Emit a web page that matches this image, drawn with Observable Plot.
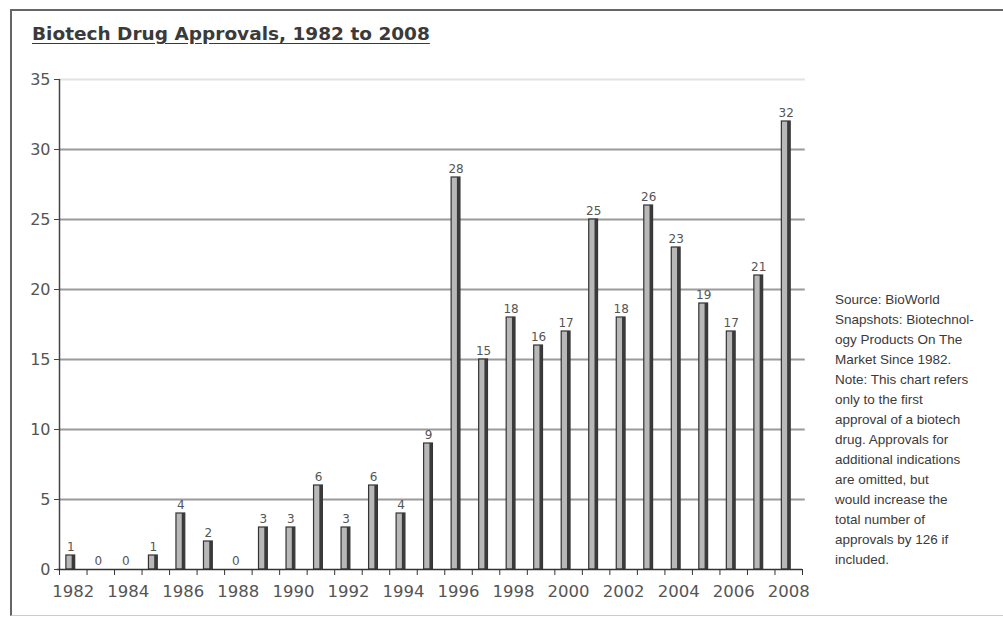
<!DOCTYPE html>
<html>
<head>
<meta charset="utf-8">
<script src="https://cdn.jsdelivr.net/npm/d3@7"></script>
<script src="https://cdn.jsdelivr.net/npm/@observablehq/plot@0.6"></script>
<style>
  html, body { margin: 0; padding: 0; background: #fff; }
  #page { position: relative; width: 1003px; height: 617px; overflow: hidden; }
  #frame {
    position: absolute; left: 10px; top: 9px; width: 1010px; height: 604px;
    border-top: 2px solid #666; border-left: 2px solid #666; border-bottom: 1px solid #ccc;
  }
  #title {
    position: absolute; left: 32px; top: 23px;
    font: bold 18.5px "DejaVu Sans", sans-serif; color: #3a3a3a;
    text-decoration: underline; text-underline-offset: 3px;
  }
  #chart { position: absolute; left: 0; top: 60px; }
  #note {
    position: absolute; left: 835px; top: 290px;
    font: 13.5px "Liberation Sans", sans-serif; line-height: 20px; color: #3a3a3a;
  }
</style>
</head>
<body>
<div id="page">
  <div id="frame"></div>
  <div id="title">Biotech Drug Approvals, 1982 to 2008</div>
  <div id="chart"></div>
  <div id="note">Source: BioWorld<br>Snapshots: Biotechnol-<br>ogy Products On The<br>Market Since 1982.<br>Note: This chart refers<br>only to the first<br>approval of a biotech<br>drug. Approvals for<br>additional indications<br>are omitted, but<br>would increase the<br>total number of<br>approvals by 126 if<br>included.</div>
</div>
<script>
// Approval year and number of first-time biotech drug approvals
const years = [1982, 1983, 1984, 1985, 1986, 1987, 1988, 1989, 1990, 1991, 1992, 1993, 1994, 1995,
               1996, 1997, 1998, 1999, 2000, 2001, 2002, 2003, 2004, 2005, 2006, 2007, 2008];
const approvals = [1, 0, 0, 1, 4, 2, 0, 3, 3, 6, 3, 6, 4, 9,
                   28, 15, 18, 16, 17, 25, 18, 26, 23, 19, 17, 21, 32];

// Axis tick values
const yTicks = [0, 5, 10, 15, 20, 25, 30, 35];
const gridLines = [5, 10, 15, 20, 25, 30];
const xLabels = [1982, 1984, 1986, 1988, 1990, 1992, 1994, 1996, 1998, 2000, 2002, 2004, 2006, 2008];

const data = years.map((year, i) => ({year, count: approvals[i]}));

// Tick marks sit on the boundaries between the yearly slots
const boundaries = years.map(y => y - 0.5).concat([years[years.length - 1] + 0.5]);
const x0 = years[0] - 0.5, xEnd = years[years.length - 1] + 0.5;

const chart = Plot.plot({
  width: 1003,
  height: 557,
  marginTop: 19,
  marginBottom: 48,
  marginLeft: 59,
  marginRight: 201,
  x: {domain: [x0, xEnd], axis: null},
  y: {domain: [0, 35], axis: null},
  style: {fontFamily: "DejaVu Sans, sans-serif", background: "transparent", overflow: "visible"},
  marks: [
    // horizontal gridlines
    Plot.ruleY(gridLines, {x1: x0, x2: xEnd + 0.1, stroke: "#9a9a9a", strokeWidth: 2}),
    Plot.ruleY([35], {x1: x0, x2: xEnd + 0.1, stroke: "#e2e2e2", strokeWidth: 2}),
    // bars: light face with dark outline and a dark right-hand edge
    Plot.rectY(data, {x1: d => d.year - 0.25, x2: d => d.year + 0.07, y: "count",
                      fill: "#b8b8b8", stroke: "#333", strokeWidth: 1.2}),
    Plot.rectY(data, {x1: d => d.year - 0.04, x2: d => d.year + 0.07, y: "count",
                      fill: "#3a3a3a"}),
    // value labels
    Plot.text(data, {x: d => d.year - 0.09, y: "count", text: d => String(d.count),
                     dy: -5, lineAnchor: "bottom", fontSize: 12, fill: "#555"}),
    // axis lines
    Plot.ruleX([x0], {y1: 0, y2: 35, stroke: "#444", strokeWidth: 1.5}),
    Plot.ruleY([0], {x1: x0 - 0.08, x2: xEnd, stroke: "#333", strokeWidth: 1.5}),
    // y axis ticks and labels
    Plot.axisY(yTicks, {tickSize: 5, tickPadding: 4, fontSize: 16, color: "#555", stroke: "#444", label: null}),
    // x axis ticks between years, labels under every other year
    Plot.axisX(boundaries, {tickSize: 6, tickFormat: () => "", stroke: "#333", label: null}),
    Plot.axisX(xLabels, {tickSize: 0, tickPadding: 16, fontSize: 16.5, color: "#555", label: null,
                         tickFormat: d => String(d)})
  ]
});

document.getElementById("chart").appendChild(chart);
</script>
</body>
</html>
